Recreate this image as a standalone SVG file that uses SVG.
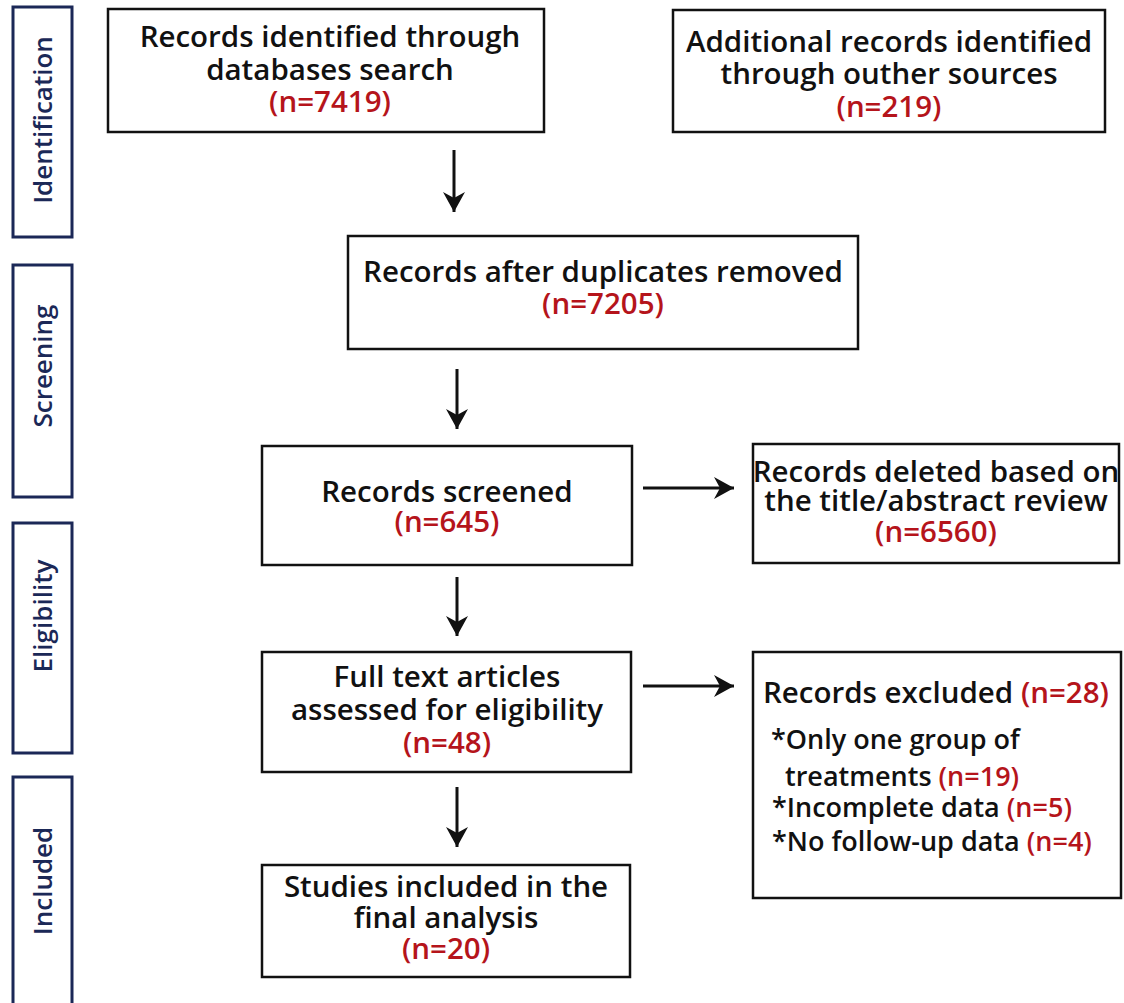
<svg xmlns="http://www.w3.org/2000/svg" width="1124" height="1003" viewBox="0 0 1124 1003">
<defs>
<style>
.lab{fill:#fff;stroke:#1b2857;stroke-width:3}
.labt{font-family:"Open Sans","Noto Sans",sans-serif;font-weight:600;font-size:26px;fill:#1b2857;text-anchor:middle}
.box{fill:#fff;stroke:#111;stroke-width:2.5}
.t{font-family:"Open Sans","Noto Sans",sans-serif;font-weight:600;font-size:29.5px;fill:#111;text-anchor:middle}
.tl{font-family:"Open Sans","Noto Sans",sans-serif;font-weight:600;font-size:29.5px;fill:#111}
.s{font-family:"Open Sans","Noto Sans",sans-serif;font-weight:600;font-size:27px;fill:#111}
.r{fill:#b5141b}
.con{stroke:#111;stroke-width:3;fill:none;marker-end:url(#ah)}
</style>
<marker id="ah" markerUnits="userSpaceOnUse" markerWidth="24" markerHeight="24" viewBox="-21 -12 22 24" refX="0" refY="0" orient="auto">
<path d="M0,0 L-20,-11 L-14,0 L-20,11 Z" fill="#111"/>
</marker>
</defs>
<rect width="1124" height="1003" fill="#fff"/>
<g id="phase-identification"><rect class="lab" x="13" y="7" width="59" height="230"/><text class="labt" transform="translate(52,120) rotate(-90)">Identification</text></g>
<g id="phase-screening"><rect class="lab" x="13" y="265" width="59" height="232"/><text class="labt" transform="translate(52,366) rotate(-90)">Screening</text></g>
<g id="phase-eligibility"><rect class="lab" x="13" y="523" width="59" height="230"/><text class="labt" transform="translate(52,616) rotate(-90)">Eligibility</text></g>
<g id="phase-included"><rect class="lab" x="13" y="777" width="59" height="240"/><text class="labt" transform="translate(52,881) rotate(-90)">Included</text></g>

<g id="n-databases"><rect class="box" x="108" y="9" width="436" height="123"/>
<text class="t" x="330" y="47">Records identified through</text>
<text class="t" x="330" y="80">databases search</text>
<text class="t r" x="330" y="112">(n=7419)</text></g>

<g id="n-other"><rect class="box" x="673" y="10" width="432" height="122"/>
<text class="t" x="889" y="52">Additional records identified</text>
<text class="t" x="889" y="84">through outher sources</text>
<text class="t r" x="889" y="117">(n=219)</text></g>

<g id="n-duplicates"><rect class="box" x="348" y="236" width="510" height="113"/>
<text class="t" x="603" y="282">Records after duplicates removed</text>
<text class="t r" x="603" y="314">(n=7205)</text></g>

<g id="n-screened"><rect class="box" x="262" y="446" width="370" height="119"/>
<text class="t" x="447" y="502">Records screened</text>
<text class="t r" x="447" y="532">(n=645)</text></g>

<g id="n-deleted"><rect class="box" x="753" y="444" width="366" height="119"/>
<text class="t" x="936" y="482">Records deleted based on</text>
<text class="t" x="936" y="511">the title/abstract review</text>
<text class="t r" x="936" y="542">(n=6560)</text></g>

<g id="n-fulltext"><rect class="box" x="262" y="652" width="369" height="120"/>
<text class="t" x="447" y="687">Full text articles</text>
<text class="t" x="447" y="720">assessed for eligibility</text>
<text class="t r" x="447" y="753">(n=48)</text></g>

<g id="n-excluded"><rect class="box" x="753" y="652" width="368" height="246"/>
<text class="tl" x="763" y="703">Records excluded <tspan class="r">(n=28)</tspan></text>
<text class="s" x="771" y="749">*Only one group of</text>
<text class="s" x="785" y="786">treatments <tspan class="r">(n=19)</tspan></text>
<text class="s" x="772" y="817">*Incomplete data <tspan class="r">(n=5)</tspan></text>
<text class="s" x="772" y="851">*No follow-up data <tspan class="r">(n=4)</tspan></text></g>

<g id="n-included"><rect class="box" x="262" y="865" width="368" height="112"/>
<text class="t" x="446" y="897">Studies included in the</text>
<text class="t" x="446" y="928">final analysis</text>
<text class="t r" x="446" y="959">(n=20)</text></g>

<g id="connectors">
<line class="con" x1="454" y1="150" x2="454" y2="212"/>
<line class="con" x1="457" y1="369" x2="457" y2="429"/>
<line class="con" x1="643" y1="488" x2="734" y2="488"/>
<line class="con" x1="457" y1="577" x2="457" y2="636"/>
<line class="con" x1="643" y1="686" x2="734" y2="686"/>
<line class="con" x1="457" y1="787" x2="457" y2="847"/>
</g>
</svg>
